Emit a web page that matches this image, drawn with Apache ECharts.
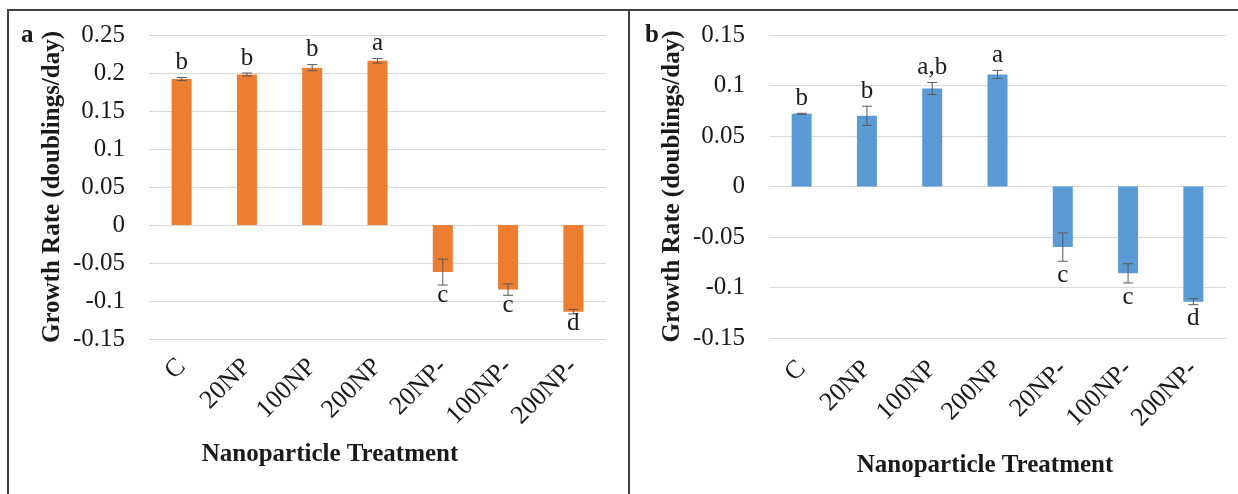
<!DOCTYPE html>
<html>
<head>
<meta charset="utf-8">
<title>Growth rate by nanoparticle treatment</title>
<script src="https://cdn.jsdelivr.net/npm/echarts@6/dist/echarts.min.js"></script>
<style>
  html, body { margin: 0; padding: 0; background: #fff; }
  #chart { width: 1238px; height: 494px; }
</style>
</head>
<body>
<div id="chart"></div>
<script>
// Treatments shown on both panels
const categories = ['C', '20NP', '100NP', '200NP', '20NP-', '100NP-', '200NP-'];

// Panel a: growth rate (doublings/day), standard error and significance letters
const rateA   = [0.192, 0.198, 0.207, 0.216, -0.062, -0.085, -0.114];
const errA    = [0.002, 0.002, 0.004, 0.003, 0.017, 0.0075, 0.003];
const lettersA = ['b', 'b', 'b', 'a', 'c', 'c', 'd'];

// Panel b
const rateB   = [0.072, 0.070, 0.097, 0.111, -0.060, -0.086, -0.114];
const errB    = [0.0005, 0.0095, 0.006, 0.004, 0.014, 0.0095, 0.003];
const lettersB = ['b', 'b', 'a,b', 'a', 'c', 'c', 'd'];

// Value axis ranges and tick step
const yRangeA = [-0.15, 0.25];
const yRangeB = [-0.15, 0.15];
const yStep = 0.05;

const yTitle = 'Growth Rate (doublings/day)';
const xTitle = 'Nanoparticle Treatment';

const SERIF = '"Liberation Serif", "Times New Roman", "DejaVu Serif", serif';
const TEXT = '#1a1a1a';
const GRID_LINE = '#d9d9d9';

function errorBars(xi, yi, rates, errs, letters, above, below) {
  return {
    type: 'custom',
    xAxisIndex: xi,
    yAxisIndex: yi,
    z: 5,
    clip: false,
    silent: true,
    data: errs.map((e, i) => [i, rates[i], e]),
    renderItem(params, api) {
      const i = api.value(0), v = api.value(1), e = api.value(2);
      const hi = api.coord([i, v + e]);
      const lo = api.coord([i, v - e]);
      const cap = 5;
      const stroke = { stroke: '#595959', lineWidth: 1 };
      const ly = v >= 0 ? hi[1] - above : lo[1] + below;
      return {
        type: 'group',
        children: [
          { type: 'line', shape: { x1: hi[0], y1: hi[1], x2: lo[0], y2: lo[1] }, style: stroke },
          { type: 'line', shape: { x1: hi[0] - cap, y1: hi[1], x2: hi[0] + cap, y2: hi[1] }, style: stroke },
          { type: 'line', shape: { x1: lo[0] - cap, y1: lo[1], x2: lo[0] + cap, y2: lo[1] }, style: stroke },
          {
            type: 'text',
            style: {
              x: hi[0], y: ly,
              text: letters[params.dataIndex],
              align: 'center', verticalAlign: 'middle',
              fontFamily: SERIF, fontSize: 25, fill: TEXT
            }
          }
        ]
      };
    }
  };
}

function valueAxis(gi, range) {
  return {
    type: 'value',
    gridIndex: gi,
    min: range[0], max: range[1], interval: yStep,
    name: yTitle,
    nameLocation: 'middle',
    nameGap: 84,
    nameTextStyle: { fontFamily: SERIF, fontSize: 25, fontWeight: 'bold', color: TEXT },
    axisLine: { show: false },
    axisTick: { show: false },
    axisLabel: { fontFamily: SERIF, fontSize: 25, color: TEXT, margin: 24 },
    splitLine: { lineStyle: { color: GRID_LINE, width: 1 } }
  };
}

function categoryAxis(gi, margin) {
  return {
    type: 'category',
    gridIndex: gi,
    data: categories,
    axisLine: { show: false, onZero: false },
    axisTick: { show: false },
    axisLabel: { interval: 0, rotate: 45, margin: margin, fontFamily: SERIF, fontSize: 26, color: TEXT }
  };
}

const chart = echarts.init(document.getElementById('chart'), null, { renderer: 'canvas' });

chart.setOption({
  backgroundColor: '#ffffff',
  animation: false,
  grid: [
    { left: 149, right: 632, top: 35, bottom: 155 },
    { left: 769, right: 12, top: 35, bottom: 156 }
  ],
  xAxis: [categoryAxis(0, 24), categoryAxis(1, 27)],
  yAxis: [valueAxis(0, yRangeA), valueAxis(1, yRangeB)],
  series: [
    { type: 'bar', xAxisIndex: 0, yAxisIndex: 0, data: rateA, barWidth: 20, itemStyle: { color: '#ED7D31' } },
    { type: 'bar', xAxisIndex: 1, yAxisIndex: 1, data: rateB, barWidth: 20, itemStyle: { color: '#5B9BD5' } },
    errorBars(0, 0, rateA, errA, lettersA, 15, 10),
    errorBars(1, 1, rateB, errB, lettersB, 15, 14)
  ],
  graphic: [
    // panel frames
    { type: 'rect', shape: { x: 8, y: 10, width: 621, height: 520 }, style: { fill: 'none', stroke: '#404040', lineWidth: 2 }, silent: true },
    { type: 'rect', shape: { x: 629, y: 10, width: 640, height: 520 }, style: { fill: 'none', stroke: '#404040', lineWidth: 2 }, silent: true },
    // panel letters
    { type: 'text', left: 21, top: 23, style: { text: 'a', fontFamily: SERIF, fontSize: 25, fontWeight: 'bold', fill: TEXT } },
    { type: 'text', left: 645, top: 23, style: { text: 'b', fontFamily: SERIF, fontSize: 25, fontWeight: 'bold', fill: TEXT } },
    // category axis titles
    { type: 'text', x: 330, y: 455, style: { text: xTitle, align: 'center', verticalAlign: 'middle', fontFamily: SERIF, fontSize: 25, fontWeight: 'bold', fill: TEXT } },
    { type: 'text', x: 985, y: 466, style: { text: xTitle, align: 'center', verticalAlign: 'middle', fontFamily: SERIF, fontSize: 25, fontWeight: 'bold', fill: TEXT } }
  ]
});
</script>
</body>
</html>
